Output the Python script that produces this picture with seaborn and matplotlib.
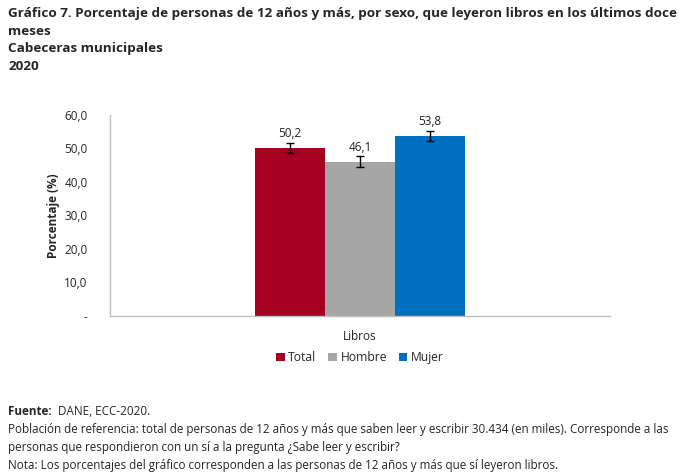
import numpy as np
import pandas as pd
import matplotlib
matplotlib.use("Agg")
import matplotlib.pyplot as plt
import seaborn as sns

# data
categoria = ["Libros"]
sexos = ["Total", "Hombre", "Mujer"]
valores = [50.2, 46.1, 53.8]
errores = [1.5, 1.5, 1.5]
colores = ["#A50021", "#A6A6A6", "#0070C0"]
yticks = [0, 10, 20, 30, 40, 50, 60]

sns.set_style("white")
plt.rcParams["font.family"] = ["Open Sans", "DejaVu Sans"]

df = pd.DataFrame({"categoria": categoria * len(sexos), "sexo": sexos, "valor": valores})

fig = plt.figure(figsize=(6.91, 4.73), dpi=100)
ax = fig.add_axes([0.159, 0.332, 0.724, 0.425])

sns.barplot(data=df, x="categoria", y="valor", hue="sexo", palette=colores,
            width=0.42, errorbar=None, saturation=1, ax=ax, legend=True, linewidth=0)

# error bars and labels on top of each bar
for patch, v, e in zip(ax.patches, valores, errores):
    xc = patch.get_x() + patch.get_width() / 2
    ax.errorbar(xc, v, yerr=e, fmt="none", ecolor="black", elinewidth=1, capsize=3, capthick=1)
    ax.text(xc, v + e + 0.8, f"{v:.1f}".replace(".", ","), ha="center", va="bottom",
            fontsize=8.5, color="#222222")

ax.set_xlim(-0.5, 0.5)
ax.set_ylim(0, 60)
ax.set_yticks(yticks)
ax.set_yticklabels(["-" if t == 0 else f"{t:.1f}".replace(".", ",") for t in yticks], fontsize=8.5)
ax.tick_params(axis="x", labelsize=8.5, pad=10, length=0)
ax.tick_params(axis="y", length=0, pad=16)
ax.set_xlabel("")
ax.set_ylabel("Porcentaje (%)", fontsize=8.5, fontweight="bold", labelpad=3)
for s in ["top", "right"]:
    ax.spines[s].set_visible(False)
for s in ["left", "bottom"]:
    ax.spines[s].set_color("#BFBFBF")
    ax.spines[s].set_linewidth(1)

ax.legend(loc="upper center", bbox_to_anchor=(0.5, -0.12), ncol=3, frameon=False,
          fontsize=8.7, handlelength=0.7, handleheight=0.7, handletextpad=0.3,
          columnspacing=1.0)

fig.text(0.012, 0.985, "Gráfico 7. Porcentaje de personas de 12 años y más, por sexo, que leyeron libros en los últimos doce\nmeses\nCabeceras municipales\n2020",
         ha="left", va="top", fontsize=9.7, fontweight="bold", linespacing=1.45)

fig.text(0.012, 0.143, "Fuente:", ha="left", va="top", fontsize=8.4, fontweight="bold")
fig.text(0.084, 0.143, "DANE, ECC-2020.", ha="left", va="top", fontsize=8.4)
fig.text(0.012, 0.105,
         "Población de referencia: total de personas de 12 años y más que saben leer y escribir 30.434 (en miles). Corresponde a las\n"
         "personas que respondieron con un sí a la pregunta ¿Sabe leer y escribir?\n"
         "Nota: Los porcentajes del gráfico corresponden a las personas de 12 años y más que sí leyeron libros.",
         ha="left", va="top", fontsize=8.4, linespacing=1.5)

fig.savefig("out.png", dpi=100)
